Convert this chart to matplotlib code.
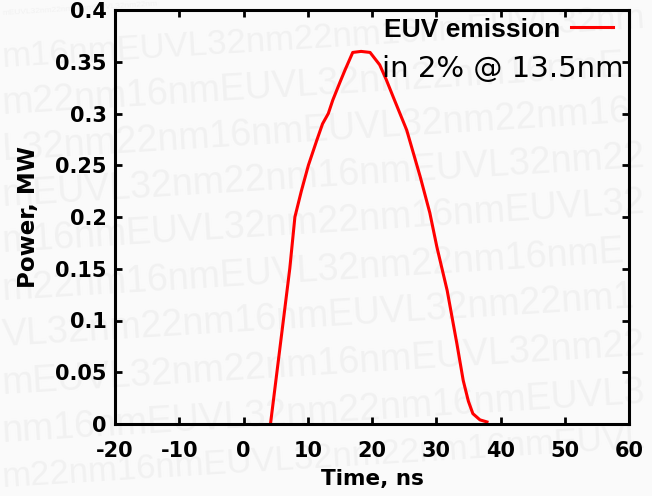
import numpy as np
import matplotlib
matplotlib.use("Agg")
import matplotlib.pyplot as plt

# EUV emission power vs time
time_ns = [4.2, 5.2, 6.2, 7.2, 8.0, 9.0, 10.1, 11.4, 12.3, 13.2, 13.9, 15.0, 15.8,
           17.0, 18.3, 19.7, 21.2, 22.2, 23.3, 25.4, 27.5, 29.0, 30.1, 31.7, 33.2,
           34.2, 35.0, 35.7, 36.8, 37.9]
power_mw = [0.0, 0.05, 0.10, 0.15, 0.20, 0.225, 0.25, 0.274, 0.29, 0.30, 0.313, 0.33, 0.342,
            0.359, 0.36, 0.359, 0.347, 0.333, 0.316, 0.284, 0.239, 0.204, 0.171, 0.129, 0.078,
            0.042, 0.022, 0.010, 0.004, 0.002]
xticks = [-20, -10, 0, 10, 20, 30, 40, 50, 60]
yticks = [0, 0.05, 0.1, 0.15, 0.2, 0.25, 0.3, 0.35, 0.4]
ytick_labels = ["0", "0.05", "0.1", "0.15", "0.2", "0.25", "0.3", "0.35", "0.4"]

# faint background watermark rows: (row y in px from top, text)
wm_rows_y = [14, 58, 104, 150, 196, 242, 290, 336, 384, 432, 478]
wm_rows_txt = ["mEUVL32nm22nm16nmEUVL32nm22nm",
               "m16nmEUVL32nm22nm16nmEUVL32nm",
               "m22nm16nmEUVL32nm22nm16nmEUVL",
               "L32nm22nm16nmEUVL32nm22nm16nm",
               "mEUVL32nm22nm16nmEUVL32nm22nm",
               "m16nmEUVL32nm22nm16nmEUVL32nm",
               "m22nm16nmEUVL32nm22nm16nmEUVL",
               "VL32nm22nm16nmEUVL32nm22nm16nm",
               "mEUVL32nm22nm16nmEUVL32nm22nm",
               "nm16nmEUVL32nm22nm16nmEUVL32nm",
               "m22nm16nmEUVL32nm22nm16nmEUVL"]

plt.rcParams['axes.unicode_minus'] = False

W, H = 652, 496
fig = plt.figure(figsize=(W / 100, H / 100), dpi=100, facecolor="#fafafa")
renderer = fig.canvas.get_renderer()

for ypx, txt in zip(wm_rows_y, wm_rows_txt):
    t = fig.text(2 / W, 1 - ypx / H, txt, fontsize=27, family="Liberation Sans",
                 color="#f1f1f1", rotation=3.5, rotation_mode="anchor",
                 ha="left", va="center", zorder=-5)
    # trim the row so it stays inside the picture
    while True:
        bb = t.get_window_extent(renderer)
        if bb.x1 < W - 2 and bb.y1 < H - 1 and bb.y0 > 1:
            break
        if bb.y1 >= H - 1 or bb.y0 <= 1:
            t.set_fontsize(t.get_fontsize() - 1)
            continue
        t.set_text(t.get_text()[:-1])

ax = fig.add_axes([115 / W, 1 - 424 / H, 514 / W, 414 / H])
ax.patch.set_alpha(0)
ax.plot(time_ns, power_mw, color="#ff0000", lw=2.2, label="EUV emission")

ax.set_xlim(-20, 60)
ax.set_ylim(0, 0.4)
ax.set_xticks(xticks)
ax.set_yticks(yticks)
ax.set_yticklabels(ytick_labels)
for s in ax.spines.values():
    s.set_linewidth(2.2)
ax.tick_params(direction="in", length=5, width=2, top=True, right=True,
               labelsize=15)
ax.tick_params(axis="x", pad=12)
ax.tick_params(axis="y", pad=6)
for lab in ax.get_xticklabels() + ax.get_yticklabels():
    lab.set_fontweight("bold")
    lab.set_family("DejaVu Sans")

ax.set_xlabel("Time, ns", fontsize=15.5, fontweight="bold", family="DejaVu Sans",
              labelpad=6)
ax.set_ylabel("Power, MW", fontsize=16.5, fontweight="bold", family="DejaVu Sans",
              labelpad=11)

leg = ax.legend(loc="upper right", frameon=False, markerfirst=False,
                prop={"weight": "bold", "size": 19, "family": "Liberation Sans"},
                handlelength=1.6, borderaxespad=0.0, handletextpad=0.4,
                bbox_to_anchor=(0.99, 1.007))
ax.text(0.99, 0.857, "in 2% @ 13.5nm", transform=ax.transAxes, ha="right",
        va="center", fontsize=21, family="DejaVu Sans")

fig.savefig("out.png", dpi=100, facecolor=fig.get_facecolor())
